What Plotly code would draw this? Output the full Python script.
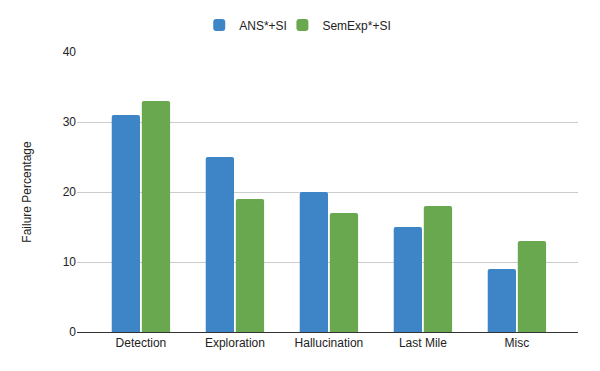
import plotly.graph_objects as go

categories = ["Detection", "Exploration", "Hallucination", "Last Mile", "Misc"]
ans_si = [31, 25, 20, 15, 9]
semexp_si = [33, 19, 17, 18, 13]

fig = go.Figure()
fig.add_trace(go.Bar(x=categories, y=ans_si, name="ANS*+SI", legend="legend",
                     showlegend=True,
                     marker=dict(color="#3d85c6", cornerradius=2, line_width=0)))
fig.add_trace(go.Bar(x=categories, y=semexp_si, name="SemExp*+SI", legend="legend2",
                     showlegend=True,
                     marker=dict(color="#6aa84f", cornerradius=2, line_width=0)))

legend_style = dict(orientation="h", xanchor="left", y=1.096, yanchor="middle",
                    font=dict(size=12), itemwidth=30, bgcolor="rgba(0,0,0,0)",
                    visible=True)

# the page body adds an 8px offset, so margins are shifted to compensate
fig.update_layout(
    width=600, height=371,
    showlegend=True,
    margin=dict(l=69, r=30, t=44, b=47, autoexpand=False),
    paper_bgcolor="white", plot_bgcolor="white",
    font=dict(family="Liberation Sans, Arial, sans-serif", size=12, color="#222222"),
    barmode="group", bargap=0.36, bargroupgap=0.06,
    legend=dict(x=0.244, **legend_style),
    legend2=dict(x=0.410, **legend_style),
)
fig.update_xaxes(range=[-0.68, 4.65], showline=True, linecolor="#333333", linewidth=1,
                 ticks="", tickfont=dict(size=12), automargin=False)
fig.update_yaxes(range=[0, 40], dtick=10, gridcolor="#cccccc", zeroline=False,
                 ticks="", tickfont=dict(size=12), automargin=False,
                 title=dict(text="Failure Percentage", font=dict(size=12), standoff=28))

fig.write_html("out.html")
